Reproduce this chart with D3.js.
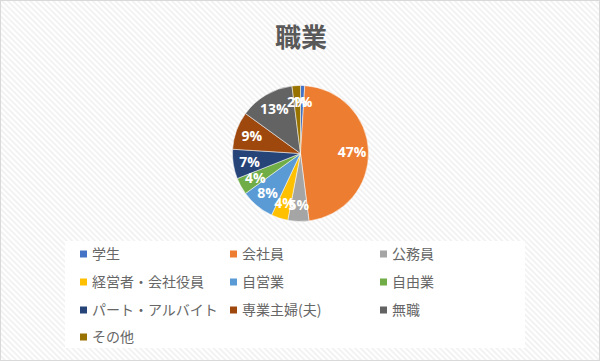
<!DOCTYPE html>
<html>
<head>
<meta charset="utf-8">
<script src="https://cdn.jsdelivr.net/npm/d3@7"></script>
<style>
  body { margin: 0; background: #fff; }
  svg { display: block; }
</style>
</head>
<body>
<svg width="600" height="361"></svg>
<script>
// chart data
var chartTitle = "職業";
var categories = ["学生", "会社員", "公務員", "経営者・会社役員", "自営業", "自由業",
    "パート・アルバイト", "専業主婦(夫)", "無職", "その他"];
var values = [1, 47, 5, 4, 8, 4, 7, 9, 13, 2];
var colors = ["#4472C4", "#ED7D31", "#A5A5A5", "#FFC000", "#5B9BD5", "#70AD47",
    "#264478", "#9E480E", "#636363", "#997300"];

var svg = d3.select("svg"),
    width = +svg.attr("width"),
    height = +svg.attr("height");

var jpFont = "'Noto Sans CJK JP', 'Noto Sans', sans-serif";

// striped background
var defs = svg.append("defs");
var pat = defs.append("pattern")
    .attr("id", "stripes")
    .attr("patternUnits", "userSpaceOnUse")
    .attr("width", 4)
    .attr("height", 4)
    .attr("patternTransform", "rotate(-45)");
pat.append("rect").attr("width", 4).attr("height", 4).attr("fill", "#ffffff");
pat.append("rect").attr("width", 1.6).attr("height", 4).attr("fill", "#f0f0f0");

svg.append("rect")
    .attr("x", 0.5).attr("y", 0.5)
    .attr("width", width - 1).attr("height", height - 1)
    .attr("fill", "url(#stripes)")
    .attr("stroke", "#d9d9d9");

// title
svg.append("text")
    .attr("x", 301)
    .attr("y", 47)
    .attr("text-anchor", "middle")
    .attr("font-family", jpFont)
    .attr("font-size", 26)
    .attr("font-weight", "bold")
    .attr("fill", "#595959")
    .text(chartTitle);

// pie
var cx = 300.5, cy = 153.5, radius = 68;
var total = d3.sum(values);
var pie = d3.pie().sort(null).value(function (d) { return d; });
var arc = d3.arc().innerRadius(0).outerRadius(radius);
var labelArc = d3.arc().innerRadius(radius * 0.76).outerRadius(radius * 0.76);

var g = svg.append("g").attr("transform", "translate(" + cx + "," + cy + ")");
var arcs = pie(values);

g.selectAll("path.slice")
    .data(arcs)
    .enter().append("path")
    .attr("class", "slice")
    .attr("d", arc)
    .attr("fill", function (d, i) { return colors[i]; })
    .attr("stroke", "#fff")
    .attr("stroke-width", 0.5);

g.selectAll("text.pct")
    .data(arcs)
    .enter().append("text")
    .attr("class", "pct")
    .attr("transform", function (d) { return "translate(" + labelArc.centroid(d) + ")"; })
    .attr("text-anchor", "middle")
    .attr("dy", "0.36em")
    .attr("font-family", "'Open Sans', 'Noto Sans', sans-serif")
    .attr("font-size", 14)
    .attr("font-weight", "bold")
    .attr("fill", "#ffffff")
    .text(function (d) { return Math.round(d.data / total * 100) + "%"; });

// legend
svg.append("rect")
    .attr("x", 65).attr("y", 241)
    .attr("width", 460).attr("height", 107)
    .attr("fill", "#ffffff");

var colX = [80, 230, 380];
var rowY = [254, 282, 310, 337];

var legend = svg.selectAll("g.legend")
    .data(categories)
    .enter().append("g")
    .attr("class", "legend")
    .attr("transform", function (d, i) {
        return "translate(" + colX[i % 3] + "," + rowY[Math.floor(i / 3)] + ")";
    });

legend.append("rect")
    .attr("x", 0)
    .attr("y", -3.5)
    .attr("width", 7)
    .attr("height", 7)
    .attr("fill", function (d, i) { return colors[i]; });

legend.append("text")
    .attr("x", 12)
    .attr("dy", "0.36em")
    .attr("font-family", jpFont)
    .attr("font-size", 14)
    .attr("fill", "#666666")
    .text(function (d) { return d; });
</script>
</body>
</html>
